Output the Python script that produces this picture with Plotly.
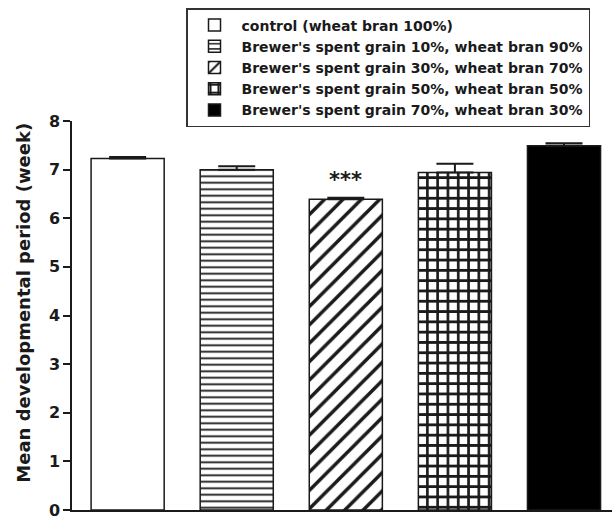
import plotly.graph_objects as go

# Mean developmental period per diet (weeks) with upper SEM
diets = [
    "control (wheat bran 100%)",
    "Brewer's spent grain 10%, wheat bran 90%",
    "Brewer's spent grain 30%, wheat bran 70%",
    "Brewer's spent grain 50%, wheat bran 50%",
    "Brewer's spent grain 70%, wheat bran 30%",
]
mean_weeks = [7.23, 7.00, 6.39, 6.94, 7.49]
sem_weeks = [0.03, 0.07, 0.03, 0.18, 0.05]
significance = ["", "", "***", "", ""]
y_ticks = [0, 1, 2, 3, 4, 5, 6, 7, 8]

INK = "#1a1a1a"
FONT = "DejaVu Sans"

# fill style of each bar: (fill colour, pattern)
styles = [
    ("white", None),
    ("white", dict(shape="-", size=6.5, solidity=0.28, fgcolor=INK, bgcolor="white", fillmode="replace")),
    ("white", dict(shape="/", size=13, solidity=0.27, fgcolor=INK, bgcolor="white", fillmode="replace")),
    ("white", dict(shape="+", size=10.3, solidity=0.45, fgcolor=INK, bgcolor="white", fillmode="replace")),
    ("black", None),
]

fig = go.Figure()
for i, (name, m, e) in enumerate(zip(diets, mean_weeks, sem_weeks)):
    color, pattern = styles[i]
    marker = dict(color=color, line=dict(color=INK, width=1.5))
    if pattern is not None:
        marker["pattern"] = pattern
    fig.add_trace(go.Bar(
        x=[i], y=[m], name=name, width=0.67,
        legendgroup=f"g{i}",
        marker=marker,
        error_y=dict(type="data", array=[e], arrayminus=[0], symmetric=False,
                     width=18.5, thickness=2, color=INK),
    ))

# significance marks above bars
for i, (m, e, s) in enumerate(zip(mean_weeks, sem_weeks, significance)):
    if s:
        fig.add_annotation(x=i, y=m + e + 0.36, text=s, showarrow=False,
                           yanchor="middle",
                           font=dict(family=FONT, size=21, color=INK, weight="bold"))

# y-axis title
fig.add_annotation(xref="paper", yref="paper", x=0, y=0.533, xshift=-48,
                   text="Mean developmental period (week)", textangle=-90,
                   showarrow=False, xanchor="center", yanchor="middle",
                   font=dict(family=FONT, size=18, color=INK, weight="bold"))

fig.update_layout(
    width=612, height=519,
    margin=dict(l=72, r=0, t=121, b=9, autoexpand=False),
    paper_bgcolor="white", plot_bgcolor="white",
    font=dict(family=FONT, color=INK, weight="bold"),
    bargap=0.33,
    showlegend=True,
    legend=dict(
        x=(186 - 72) / 540, y=(510 - 8) / 389, xanchor="left", yanchor="top",
        bgcolor="white", bordercolor="#333", borderwidth=1.5,
        font=dict(family=FONT, size=14, color=INK, weight="bold"),
        itemwidth=44, traceorder="grouped", tracegroupgap=0,
        itemclick=False,
    ),
    xaxis=dict(
        range=[-0.51, 4.44], showticklabels=False, ticks="", showgrid=False,
        zeroline=False, showline=True, linecolor=INK, linewidth=2,
        fixedrange=True,
    ),
    yaxis=dict(
        range=[0, 8], tickvals=y_ticks, ticks="outside", ticklen=7, tickwidth=1.5,
        tickcolor=INK, showgrid=False, zeroline=False, showline=True,
        linecolor=INK, linewidth=1.5, automargin=False,
        ticklabeloverflow="allow",
        tickfont=dict(family=FONT, size=16, color=INK, weight="bold"),
        fixedrange=True,
    ),
)

fig.write_html("out.html")
